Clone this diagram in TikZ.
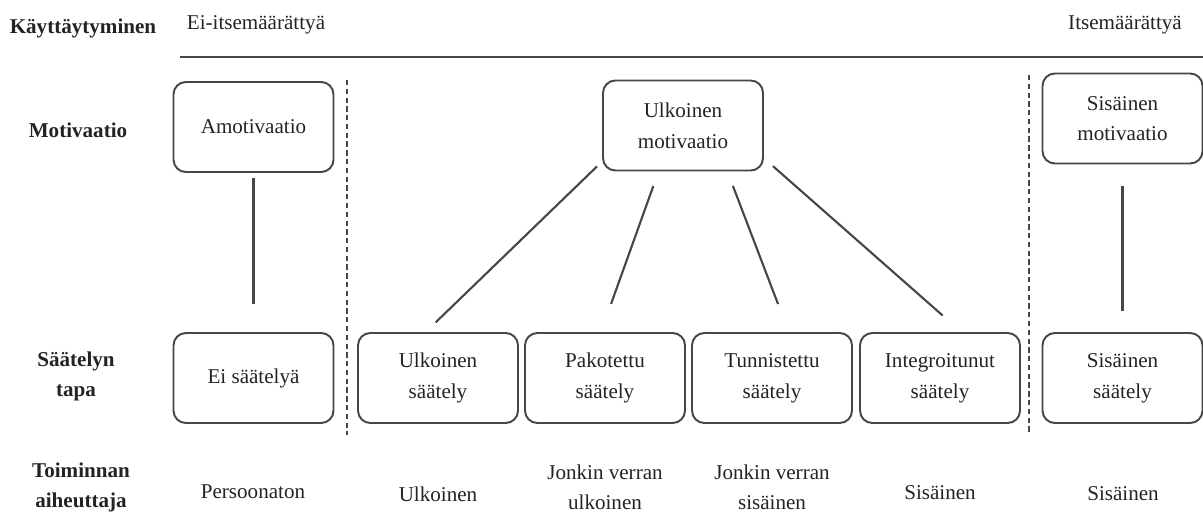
\documentclass[tikz,border=0pt]{standalone}
\usepackage{fontspec}
\setmainfont{Liberation Serif}
\definecolor{DiagInk}{RGB}{70,70,70}
\definecolor{DiagText}{RGB}{35,35,35}
\usetikzlibrary{positioning}

\begin{document}
\begin{tikzpicture}[x=0.02cm, y=-0.02cm,
    box/.style={rectangle, rounded corners=7pt, draw=DiagInk, line width=1.1pt, minimum width=3.2cm, minimum height=1.8cm, font=\fontsize{12}{17.5}\selectfont, text=DiagText, align=center},
    lbl/.style={font=\fontsize{12}{17}\selectfont\bfseries, text=DiagText, align=center},
    txt/.style={font=\fontsize{12}{17}\selectfont, text=DiagText, align=center},
    link/.style={line width=1.2pt, DiagInk},
    sep/.style={line width=1.1pt, DiagInk, dash pattern=on 3pt off 2pt}
]
    \useasboundingbox (0,0) rectangle (1203,513);
    \node[lbl] (kay) at (83,28) {Käyttäytyminen};
    \node[txt] (eis) at (256,25) {Ei-itsemäärättyä};
    \node[txt] (its) at (1125,25) {Itsemäärättyä};
    \coordinate (axl) at (180,57);
    \coordinate (axr) at (1203,57);
    \draw[line width=1.3pt, DiagInk] (axl) -- (axr);
    \node[lbl] (mot) at (78,130) {Motivaatio};
    \node[lbl] (saa) at (76,376) {Säätelyn\\tapa};
    \node[lbl] (toi) at (81,487) {Toiminnan\\aiheuttaja};
    \node[box] (amo)  at (253.5,127)   {Amotivaatio};
    \node[box] (ulm)  at (683,125.5)   {Ulkoinen\\motivaatio};
    \node[box] (sim)  at (1122.5,118.5) {Sisäinen\\motivaatio};
    \node[box] (eisa) at (253.5,378) {Ei säätelyä};
    \node[box] (uls)  at (438,378)   {Ulkoinen\\säätely};
    \node[box] (pak)  at (605,378)   {Pakotettu\\säätely};
    \node[box] (tun)  at (772,378)   {Tunnistettu\\säätely};
    \node[box] (int)  at (940,378)   {Integroitunut\\säätely};
    \node[box] (sis)  at (1122.5,378) {Sisäinen\\säätely};
    \node[txt] (per)  at (253,492)  {Persoonaton};
    \node[txt] (ulk)  at (438,494)  {Ulkoinen};
    \node[txt] (jvu)  at (605,487)  {Jonkin verran\\ulkoinen};
    \node[txt] (jvs)  at (772,487)  {Jonkin verran\\sisäinen};
    \node[txt] (sisa) at (940,493)  {Sisäinen};
    \node[txt] (sisb) at (1123,494) {Sisäinen};
    \coordinate (s1t) at (347,80);
    \coordinate (s1b) at (347,435);
    \coordinate (s2t) at (1029,75);
    \coordinate (s2b) at (1029,435);
    \draw[sep] (s1t) -- (s1b);
    \draw[sep] (s2t) -- (s2b);
    \draw[link, shorten <=0.1cm, shorten >=0.56cm] (amo) -- (eisa);
    \draw[link, shorten <=0.43cm, shorten >=0.43cm] (sim) -- (sis);
    \draw[link, shorten <=0.14cm, shorten >=0.28cm] (ulm.204) -- (uls.105);
    \draw[link, shorten <=0.31cm, shorten >=0.6cm] (ulm.242) -- (pak.95);
    \draw[link, shorten <=0.31cm, shorten >=0.6cm] (ulm.314) -- (tun.70);
    \draw[link, shorten <=0.24cm, shorten >=0.5cm] (ulm.338) -- (int.65);
\end{tikzpicture}
\end{document}
